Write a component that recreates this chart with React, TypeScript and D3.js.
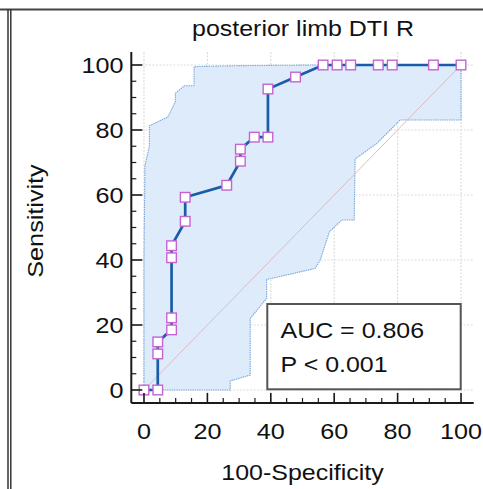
import React from "react";
import * as d3 from "d3";

const rocFpr = [0, 4.35, 4.35, 4.35, 8.7, 8.7, 8.7, 8.7, 13.0, 13.0, 26.1, 30.4, 30.4, 34.8, 39.1, 39.1, 47.8, 56.5, 60.9, 65.2, 73.9, 78.3, 91.3, 100];
const rocTpr = [0, 0, 11.1, 14.8, 18.5, 22.2, 40.7, 44.4, 51.9, 59.3, 63.0, 70.4, 74.1, 77.8, 77.8, 92.6, 96.3, 100, 100, 100, 100, 100, 100, 100];

const upperX = [0, 0, 0.3, 1.7, 1.7, 7.5, 9.9, 9.9, 12.7, 15.8, 15.8, 30, 55, 100];
const upperY = [0, 40, 69, 75, 81.3, 84, 88.7, 91.3, 93.6, 93.6, 99.5, 99.8, 100, 100];
const lowerX = [0, 27.2, 27.2, 33.5, 33.5, 38.7, 38.7, 54, 55.6, 58.5, 62.4, 66.3, 66.6, 73.5, 80.8, 100, 100];
const lowerY = [0, 0, 2.8, 4.6, 22, 28.2, 34, 37.4, 40, 48.7, 52.3, 52.3, 71.1, 75.9, 83.1, 83.1, 100];

const majorTicks = [0, 20, 40, 60, 80, 100];
const minorTicks = d3.range(5, 100, 5).filter((v) => v % 20 !== 0);

const title = "posterior limb DTI R";
const xTitle = "100-Specificity";
const yTitle = "Sensitivity";
const aucText = "AUC = 0.806";
const pText = "P < 0.001";

const W = 483;
const H = 489;
const FONT = "'Liberation Sans', Arial, Helvetica, sans-serif";

export default function App() {
  const x = d3.scaleLinear().domain([-4, 104]).range([131.3, 473.7]);
  const y = d3.scaleLinear().domain([-4, 104]).range([403, 52]);

  const upper = upperX.map((v, i) => [v, upperY[i]] as [number, number]);
  const lower = lowerX.map((v, i) => [v, lowerY[i]] as [number, number]);
  const roc = rocFpr.map((v, i) => [v, rocTpr[i]] as [number, number]);

  const line = d3
    .line<[number, number]>()
    .x((d) => x(d[0]))
    .y((d) => y(d[1]));

  const bandPts = [...upper, ...lower.slice().reverse()];
  const bandPath = line(bandPts) + "Z";

  const sx = 1.12;
  const stretched = (
    cx: number,
    cy: number,
    text: string,
    size: number,
    anchor: "start" | "middle" | "end",
    key?: string
  ) => (
    <text
      key={key}
      transform={`translate(${cx},${cy}) scale(${sx},1)`}
      fontSize={size}
      textAnchor={anchor}
      fontFamily={FONT}
      fill="#111"
    >
      {text}
    </text>
  );

  return (
    <svg
      width={W}
      height={H}
      style={{ position: "absolute", left: 0, top: 0, background: "#fff" }}
    >
      {/* frame */}
      <line x1={0} x2={W} y1={9.5} y2={9.5} stroke="#444" strokeWidth={2} />
      <line x1={8} x2={8} y1={9} y2={H} stroke="#333" strokeWidth={1.5} />
      <line x1={10.8} x2={10.8} y1={9} y2={H} stroke="#333" strokeWidth={1.5} />

      {/* grid */}
      {majorTicks.map((t) => (
        <line
          key={"gx" + t}
          x1={x(t)}
          x2={x(t)}
          y1={y(104)}
          y2={y(-4)}
          stroke="#dcdcdc"
          strokeWidth={1.2}
          strokeDasharray="2,1.5"
        />
      ))}
      {majorTicks.map((t) => (
        <line
          key={"gy" + t}
          x1={x(-4)}
          x2={x(104)}
          y1={y(t)}
          y2={y(t)}
          stroke="#dcdcdc"
          strokeWidth={1.2}
          strokeDasharray="2,1.5"
        />
      ))}

      {/* confidence band */}
      <path d={bandPath} fill="#deebfb" stroke="none" />
      <path d={line(upper) || ""} fill="none" stroke="#7ea8d8" strokeWidth={1.1} strokeDasharray="1.5,0.8" />
      <path d={line(lower) || ""} fill="none" stroke="#7ea8d8" strokeWidth={1.1} strokeDasharray="1.5,0.8" />

      {/* diagonal */}
      <line x1={x(0)} y1={y(0)} x2={x(100)} y2={y(100)} stroke="#dcbcc4" strokeWidth={1} />

      {/* ROC curve */}
      <path d={line(roc) || ""} fill="none" stroke="#1b5ca8" strokeWidth={2.7} />
      {roc.map((d, i) => (
        <rect
          key={"m" + i}
          x={x(d[0]) - 4.8}
          y={y(d[1]) - 4.8}
          width={9.6}
          height={9.6}
          fill="#fff"
          stroke="#c464d4"
          strokeWidth={1.4}
        />
      ))}

      {/* axes */}
      <line x1={x(-4)} x2={x(104)} y1={y(-4)} y2={y(-4)} stroke="#1a1a1a" strokeWidth={2} />
      <line x1={x(-4)} x2={x(-4)} y1={y(-4)} y2={y(104)} stroke="#1a1a1a" strokeWidth={2} />
      {majorTicks.map((t) => (
        <g key={"tx" + t}>
          <line x1={x(t)} x2={x(t)} y1={y(-4)} y2={y(-4) - 10} stroke="#1a1a1a" strokeWidth={1.6} />
          {stretched(x(t), 438.5, String(t), 22.5, "middle")}
        </g>
      ))}
      {minorTicks.map((t) => (
        <line key={"mx" + t} x1={x(t)} x2={x(t)} y1={y(-4)} y2={y(-4) - 5} stroke="#1a1a1a" strokeWidth={1.2} />
      ))}
      {majorTicks.map((t) => (
        <g key={"ty" + t}>
          <line x1={x(-4)} x2={x(-4) + 11} y1={y(t)} y2={y(t)} stroke="#1a1a1a" strokeWidth={1.6} />
          {stretched(123.5, y(t) + 8, String(t), 22.5, "end")}
        </g>
      ))}
      {minorTicks.map((t) => (
        <line key={"my" + t} x1={x(-4)} x2={x(-4) + 5} y1={y(t)} y2={y(t)} stroke="#1a1a1a" strokeWidth={1.2} />
      ))}

      {/* titles */}
      {stretched(303, 36, title, 22.3, "middle")}
      {stretched(302.5, 480, xTitle, 22.3, "middle")}
      <text
        transform={`translate(42.5,221) rotate(-90) scale(${sx},1)`}
        fontSize={22.5}
        textAnchor="middle"
        fontFamily={FONT}
        fill="#111"
      >
        {yTitle}
      </text>

      {/* AUC box */}
      <rect x={267.3} y={304} width={193.4} height={85.3} fill="#fff" stroke="#555" strokeWidth={2} />
      {stretched(280.5, 338, aucText, 22.3, "start")}
      {stretched(280.5, 372, pText, 22.3, "start")}
    </svg>
  );
}
